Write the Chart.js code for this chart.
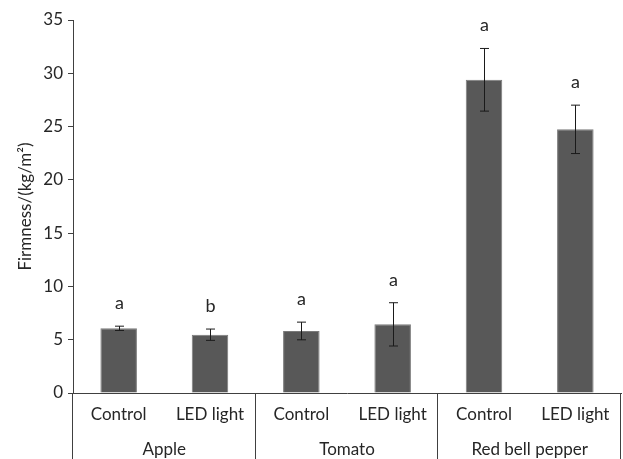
<!DOCTYPE html>
<html>
<head>
<meta charset="utf-8">
<script src="https://cdn.jsdelivr.net/npm/chart.js@4/dist/chart.umd.min.js"></script>
<style>
  html, body { margin: 0; padding: 0; background: #fff; }
  #wrap { width: 623px; height: 459px; }
</style>
</head>
<body>
<div id="wrap"><canvas id="firmness-chart"></canvas></div>
<script>
// data
const treatments = ["Control", "LED light", "Control", "LED light", "Control", "LED light"];
const fruits = ["Apple", "Tomato", "Red bell pepper"];
const firmness = [6.07, 5.47, 5.82, 6.44, 29.39, 24.74];
const errors = [0.2, 0.53, 0.83, 2.03, 2.94, 2.27];
const letters = ["a", "b", "a", "a", "a", "a"];
const yTicks = [0, 5, 10, 15, 20, 25, 30, 35];

const FONT = "Lato";
const axisColor = "#404040";
const textColor = "#262626";

// error bars, significance letters, grouped category axis
const extras = {
  id: "extras",
  afterDatasetsDraw: (chart) => {
    const ctx = chart.ctx;
    const x = chart.scales.x;
    const y = chart.scales.y;
    const area = chart.chartArea;

    ctx.save();
    ctx.strokeStyle = "#1a1a1a";
    ctx.lineWidth = 1;
    firmness.forEach((v, i) => {
      const px = Math.round(x.getPixelForValue(i)) + 0.5;
      const top = y.getPixelForValue(v + errors[i]);
      const bot = y.getPixelForValue(v - errors[i]);
      ctx.beginPath();
      ctx.moveTo(px, top);
      ctx.lineTo(px, bot);
      ctx.moveTo(px - 4.5, top);
      ctx.lineTo(px + 4.5, top);
      ctx.moveTo(px - 4.5, bot);
      ctx.lineTo(px + 4.5, bot);
      ctx.stroke();

      ctx.fillStyle = textColor;
      ctx.font = "18px " + FONT;
      ctx.textAlign = "center";
      ctx.textBaseline = "alphabetic";
      ctx.fillText(letters[i], px, top - 17);
    });

    // separators between fruit groups, down to the bottom edge
    ctx.strokeStyle = axisColor;
    const bottom = chart.height;
    const seps = [area.left];
    for (let g = 1; g < fruits.length; g++) {
      seps.push((x.getPixelForValue(g * 2 - 1) + x.getPixelForValue(g * 2)) / 2);
    }
    seps.push(area.right);
    seps.forEach((sx) => {
      const xx = Math.round(sx) - 0.5;
      ctx.beginPath();
      ctx.moveTo(xx, area.bottom);
      ctx.lineTo(xx, bottom);
      ctx.stroke();
    });

    ctx.fillStyle = textColor;
    ctx.font = "17px " + FONT;
    ctx.textAlign = "center";
    ctx.textBaseline = "middle";
    fruits.forEach((f, g) => {
      const cx = (x.getPixelForValue(g * 2) + x.getPixelForValue(g * 2 + 1)) / 2;
      ctx.fillText(f, cx, area.bottom + 57);
    });
    ctx.restore();
  },
};

new Chart(document.getElementById("firmness-chart"), {
  type: "bar",
  data: {
    labels: treatments,
    datasets: [{
      data: firmness,
      backgroundColor: "#585858",
      borderColor: "#7a7a7a",
      borderWidth: 1,
      barPercentage: 0.4,
      categoryPercentage: 1,
    }],
  },
  options: {
    responsive: true,
    maintainAspectRatio: false,
    animation: false,
    layout: {
      padding: { top: 20, right: 2, left: 0, bottom: 0 },
    },
    scales: {
      x: {
        grid: { display: false },
        border: { display: true, color: axisColor, width: 1 },
        ticks: {
          color: textColor,
          font: { family: FONT, size: 17 },
          padding: 3,
          maxRotation: 0,
        },
        afterFit: (scale) => { scale.height = 66; },
      },
      y: {
        min: 0,
        max: 35,
        afterBuildTicks: (scale) => {
          scale.ticks = yTicks.map((v) => ({ value: v }));
        },
        grid: {
          drawOnChartArea: false,
          drawTicks: true,
          tickLength: 5,
          color: axisColor,
        },
        border: { display: true, color: axisColor, width: 1 },
        ticks: {
          color: textColor,
          font: { family: FONT, size: 17 },
          padding: 5,
        },
        title: {
          display: true,
          text: "Firmness/(kg/m\u00B2)",
          color: textColor,
          font: { family: FONT, size: 17 },
          padding: { top: 15, bottom: 0 },
        },
        afterFit: (scale) => { scale.width = 73; },
      },
    },
    plugins: {
      legend: { display: false },
      tooltip: { enabled: false },
    },
  },
  plugins: [extras],
});
</script>
</body>
</html>
